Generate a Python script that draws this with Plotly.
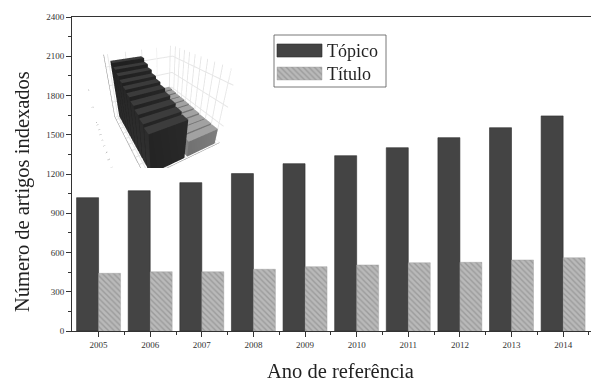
import plotly.graph_objects as go

# Annual counts of indexed articles
anos = ["2005", "2006", "2007", "2008", "2009", "2010", "2011", "2012", "2013", "2014"]
topico = [1019, 1072, 1134, 1203, 1279, 1340, 1401, 1478, 1554, 1644]
titulo = [441, 453, 453, 472, 492, 505, 522, 525, 543, 560]
y_ticks = [0, 300, 600, 900, 1200, 1500, 1800, 2100, 2400]

SERIF = "Liberation Serif, Times New Roman, serif"
DARK = "#444444"
LIGHT = "#b9b9b9"
HATCH = "#7d7d7d"

W, H = 591, 381
ML, MR, MT, MB = 72, 0, 17, 50
PW, PH = W - ML - MR, H - MT - MB

idx = list(range(len(anos)))

fig = go.Figure()

fig.add_trace(go.Bar(
    x=idx, y=topico, name="Tópico", offsetgroup="t",
    marker=dict(color=DARK, line=dict(color="#2e2e2e", width=0.6)),
    showlegend=False,
))
fig.add_trace(go.Bar(
    x=idx, y=titulo, name="Título", offsetgroup="u",
    marker=dict(color=LIGHT, line=dict(color="#9a9a9a", width=0.4),
                pattern=dict(shape="\\", fgcolor=HATCH, bgcolor=LIGHT,
                             size=4, solidity=0.35)),
    showlegend=False,
))


# ---- 3D inset: the same series as boxes ----
def box_mesh(xc, yc, heights, dx, dy):
    xs, ys, zs, ii, jj, kk = [], [], [], [], [], []
    faces = [(0, 1, 2), (0, 2, 3), (4, 5, 6), (4, 6, 7),
             (0, 1, 5), (0, 5, 4), (3, 2, 6), (3, 6, 7),
             (0, 3, 7), (0, 7, 4), (1, 2, 6), (1, 6, 5)]
    for n, (x, h) in enumerate(zip(xc, heights)):
        x0, x1 = x - dx / 2, x + dx / 2
        y0, y1 = yc - dy / 2, yc + dy / 2
        corners = [(x0, y0, 0), (x1, y0, 0), (x1, y1, 0), (x0, y1, 0),
                   (x0, y0, h), (x1, y0, h), (x1, y1, h), (x0, y1, h)]
        for cx, cy, cz in corners:
            xs.append(cx); ys.append(cy); zs.append(cz)
        base = 8 * n
        for a, b, c in faces:
            ii.append(base + a); jj.append(base + b); kk.append(base + c)
    return xs, ys, zs, ii, jj, kk


for vals, yrow, col in [(topico, 1, "#3a3a3a"), (titulo, 0, "#a0a0a0")]:
    xs, ys, zs, ii, jj, kk = box_mesh(idx, yrow, vals, 0.88, 0.92)
    fig.add_trace(go.Mesh3d(
        x=xs, y=ys, z=zs, i=ii, j=jj, k=kk, color=col,
        flatshading=True, scene="scene", showlegend=False, hoverinfo="skip",
        lighting=dict(ambient=0.55, diffuse=0.8, specular=0.1, roughness=0.9),
        lightposition=dict(x=-300, y=100, z=400),
    ))

# ---- legend keys, drawn on a hidden overlay axis in pixel units ----
def rect(x0, y0, x1, y1):
    return [x0, x1, x1, x0, x0], [y0, y0, y1, y1, y0]

kx, ky = rect(277, 44, 322, 57)
fig.add_trace(go.Scatter(x=kx, y=ky, xaxis="x2", yaxis="y2", mode="lines",
                         fill="toself", fillcolor=DARK,
                         line=dict(color="#2e2e2e", width=0.6),
                         showlegend=False, hoverinfo="skip"))
kx, ky = rect(277, 67, 322, 80)
fig.add_trace(go.Scatter(x=kx, y=ky, xaxis="x2", yaxis="y2", mode="lines",
                         fill="toself", fillcolor=LIGHT,
                         fillpattern=dict(shape="\\", fgcolor=HATCH, bgcolor=LIGHT,
                                          size=4, solidity=0.35),
                         line=dict(color="#9a9a9a", width=0.4),
                         showlegend=False, hoverinfo="skip"))


def px_to_paper(px, py):
    return (px - ML) / PW, 1 - (py - MT) / PH


ytx, yty = px_to_paper(22, 192)
xtx, xty = px_to_paper(341, 371)

annotations = [
    dict(x=325, y=50.5, xref="x2", yref="y2", text="Tópico", showarrow=False,
         xanchor="left", yanchor="middle", font=dict(family=SERIF, size=18, color="#222")),
    dict(x=325, y=74, xref="x2", yref="y2", text="Título", showarrow=False,
         xanchor="left", yanchor="middle", font=dict(family=SERIF, size=18, color="#222")),
    # axis titles
    dict(x=ytx, y=yty, xref="paper", yref="paper",
         text="Número de artigos indexados",
         showarrow=False, textangle=-90, xanchor="center", yanchor="middle",
         font=dict(family=SERIF, size=20.5, color="#222")),
    dict(x=xtx, y=xty, xref="paper", yref="paper",
         text="Ano de referência",
         showarrow=False, xanchor="center", yanchor="middle",
         font=dict(family=SERIF, size=20.5, color="#222")),
]
shapes = [
    dict(type="rect", xref="x2", yref="y2", x0=274, y0=35, x1=386, y1=87,
         line=dict(color="#555", width=0.8), fillcolor="rgba(0,0,0,0)"),
]

axis_line = dict(showline=True, linecolor="#333", linewidth=1)
scene_axis = dict(title="", showbackground=True, backgroundcolor="white",
                  gridcolor="#e6e6e6", showline=True, linecolor="#8a8a8a",
                  linewidth=1, showspikes=False)

fig.update_layout(
    width=W, height=H,
    margin=dict(l=ML, r=MR, t=MT, b=MB),
    paper_bgcolor="white", plot_bgcolor="white",
    barmode="group", bargap=0.148, bargroupgap=0,
    font=dict(family=SERIF, color="#222"),
    xaxis=dict(
        **axis_line, mirror=True,
        range=[-0.515, 9.54], tickmode="array", tickvals=idx, ticktext=anos,
        ticks="outside", ticklen=5, tickcolor="#333",
        tickfont=dict(family=SERIF, size=9, color="#333"),
        minor=dict(tickmode="array", tickvals=[i + 0.5 for i in idx],
                   ticks="outside", ticklen=3, tickcolor="#333"),
        showgrid=False, zeroline=False,
    ),
    yaxis=dict(
        **axis_line,
        range=[0, 2400], tickmode="array", tickvals=y_ticks,
        ticks="outside", ticklen=5, tickcolor="#333",
        tickfont=dict(family=SERIF, size=9, color="#333"),
        minor=dict(dtick=150, ticks="outside", ticklen=3, tickcolor="#333"),
        showgrid=False, zeroline=False,
    ),
    xaxis2=dict(overlaying="x", range=[ML, W - MR], visible=False, fixedrange=True),
    yaxis2=dict(overlaying="y", range=[H - MB, MT], visible=False, fixedrange=True),
    scene=dict(
        domain=dict(x=[0.03, 0.315], y=[0.52, 0.96]),
        xaxis=dict(**scene_axis, range=[-0.6, 9.6], tickfont=dict(size=4, color="#555"),
                   tickvals=idx, ticktext=anos),
        yaxis=dict(**scene_axis, range=[-0.6, 1.6], showticklabels=False),
        zaxis=dict(**scene_axis, range=[0, 1800], tickfont=dict(size=4, color="#555")),
        aspectmode="manual", aspectratio=dict(x=1.15, y=1.0, z=0.95),
        camera=dict(eye=dict(x=-1.55, y=0.85, z=1.05), up=dict(x=0, y=0, z=1)),
        bgcolor="white",
    ),
    shapes=shapes, annotations=annotations,
)

fig.write_html("out.html")
